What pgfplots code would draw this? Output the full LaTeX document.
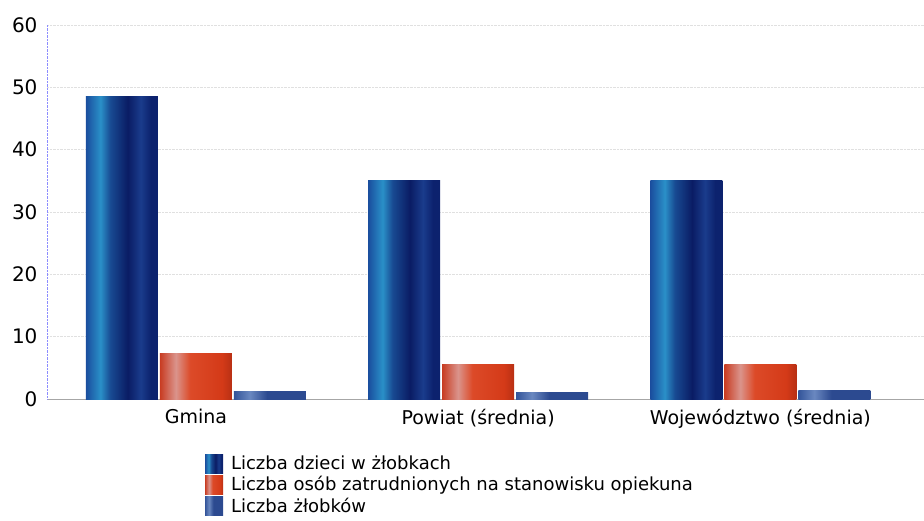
\documentclass[border=0pt]{standalone}
\usepackage{pgfplots}
\pgfplotsset{compat=1.18}
\usepackage{fontspec}
\setmainfont{DejaVu Sans}
\definecolor{b1}{HTML}{1A4E9E}
\definecolor{b2}{HTML}{2A90C8}
\definecolor{b3}{HTML}{184A92}
\definecolor{b4}{HTML}{0A1C64}
\definecolor{b5}{HTML}{1A3C8C}
\definecolor{b6}{HTML}{0C226E}
\definecolor{r1}{HTML}{C83C22}
\definecolor{r2}{HTML}{DA948C}
\definecolor{r3}{HTML}{DC4A28}
\definecolor{r4}{HTML}{D43A18}
\definecolor{r5}{HTML}{B83014}
\definecolor{g1}{HTML}{34559A}
\definecolor{g2}{HTML}{6A88C0}
\definecolor{g3}{HTML}{2C4A90}
\pgfdeclarehorizontalshading{bluebar}{100bp}{color(0bp)=(b1); color(25bp)=(b1); color(35bp)=(b2); color(42bp)=(b3); color(54bp)=(b4); color(63bp)=(b5); color(70bp)=(b6); color(75bp)=(b6); color(100bp)=(b6)}
\pgfdeclarehorizontalshading{redbar}{100bp}{color(0bp)=(r1); color(25bp)=(r1); color(36bp)=(r2); color(46bp)=(r3); color(68bp)=(r4); color(75bp)=(r5); color(100bp)=(r5)}
\pgfdeclarehorizontalshading{graybar}{100bp}{color(0bp)=(g1); color(25bp)=(g1); color(36bp)=(g2); color(48bp)=(g3); color(75bp)=(g3); color(100bp)=(g3)}
\pgfplotsset{
  sB/.style={draw=none, shade, shading=bluebar, bar shift=-74pt},
  sR/.style={draw=none, shade, shading=redbar, bar shift=0pt},
  sG/.style={draw=none, shade, shading=graybar, bar shift=74pt},
}
\begin{document}
\begin{tikzpicture}
\useasboundingbox (-47pt,-121pt) rectangle (877pt,399pt);
\begin{axis}[
  at={(0pt,0pt)}, anchor=south west,
  scale only axis,
  width=877pt, height=374pt,
  xmin=-0.528, xmax=2.58,
  ymin=0, ymax=60,
  ytick={0,10,...,60},
  xtick={0,1,2},
  xticklabels={Gmina, Powiat (średnia), Województwo (średnia)},
  major tick length=0pt,
  axis x line*=bottom, axis y line*=left,
  x axis line style={black!35},
  y axis line style={densely dotted, blue!45},
  ymajorgrids, grid style={densely dotted, black!12},
  /pgf/number format/assume math mode=true,
  yticklabel style={font=\fontsize{20}{22}\selectfont, xshift=-6pt},
  xticklabel style={font=\fontsize{19}{21}\selectfont, yshift=-7pt},
  ybar, bar width=72pt,
  legend style={draw=none, fill=none, at={(axis description cs:0.18,-0.145)}, anchor=north west,
    font=\fontsize{18}{20}\selectfont, row sep=1.5pt, legend cell align=left,
    inner sep=0pt},
  legend image code/.code={\path[#1] (0pt,-10pt) rectangle (18pt,9pt); \path (0pt,0pt) -- (24pt,0pt);},
]
\addplot[sB] coordinates {(0,48.5)};
\addplot[sR] coordinates {(0,7.3)};
\addplot[sG] coordinates {(0,1.2)};
\addplot[sB, forget plot] coordinates {(1,35.0)};
\addplot[sR, forget plot] coordinates {(1,5.6)};
\addplot[sG, forget plot] coordinates {(1,1.1)};
\addplot[sB, forget plot] coordinates {(2,35.1)};
\addplot[sR, forget plot] coordinates {(2,5.6)};
\addplot[sG, forget plot] coordinates {(2,1.3)};
\legend{Liczba dzieci w żłobkach, Liczba osób zatrudnionych na stanowisku opiekuna, Liczba żłobków}
\end{axis}
\end{tikzpicture}
\end{document}
